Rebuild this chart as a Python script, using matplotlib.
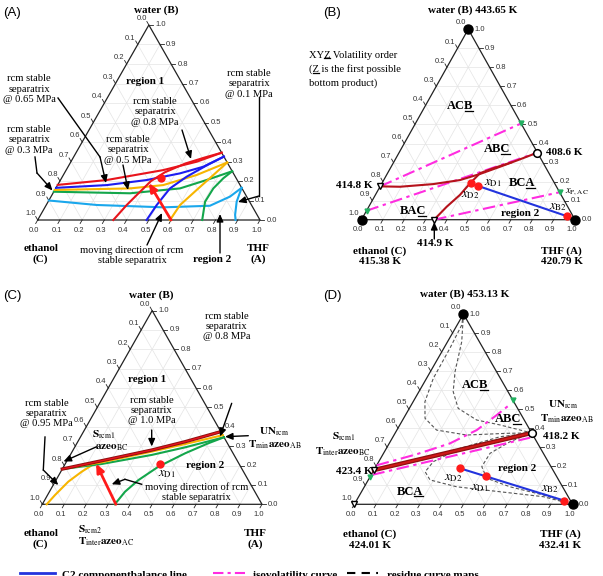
import numpy as np
import matplotlib
matplotlib.use('Agg')
import matplotlib.pyplot as plt

W, H = 603, 576
S3 = np.sqrt(3) / 2

plt.rcParams['font.family'] = 'Liberation Serif'
plt.rcParams['mathtext.fontset'] = 'stix'

# compositions are (x_THF, x_water); ethanol = 1 - both
ticks = np.round(np.arange(0, 1.01, 0.1), 1)

# ---- panel A: rcm stable separatrices at several pressures ----
a_red_up = [(0.0, 0.18), (0.208, 0.205), (0.437, 0.256), (0.566, 0.299), (0.655, 0.345)]
a_red_lo = [(0.34, 0.0), (0.362, 0.077), (0.388, 0.145), (0.41, 0.20), (0.45, 0.245),
            (0.52, 0.29), (0.59, 0.32), (0.655, 0.345)]
a_blue_up = [(0.0, 0.165), (0.221, 0.179), (0.388, 0.205), (0.52, 0.239), (0.608, 0.273), (0.675, 0.325)]
a_blue_lo = [(0.49, 0.0), (0.497, 0.077), (0.514, 0.162), (0.559, 0.222), (0.62, 0.28), (0.675, 0.325)]
a_yel_up = [(0.0, 0.154), (0.334, 0.162), (0.475, 0.179), (0.60, 0.231), (0.705, 0.295)]
a_yel_lo = [(0.595, 0.0), (0.602, 0.077), (0.638, 0.154), (0.675, 0.231), (0.705, 0.295)]
a_grn_up = [(0.0, 0.145), (0.347, 0.137), (0.559, 0.162), (0.657, 0.205), (0.75, 0.25)]
a_grn_lo = [(0.74, 0.0), (0.706, 0.094), (0.709, 0.162), (0.728, 0.214), (0.75, 0.25)]
a_cyan_up = [(0.0, 0.10), (0.227, 0.077), (0.533, 0.065), (0.738, 0.073), (0.805, 0.12), (0.835, 0.165)]
a_cyan_lo = [(0.835, 0.165), (0.848, 0.094), (0.875, 0.026), (0.89, 0.0)]
a_move = [(0.6, 0.0), (0.405, 0.19)]
a_feed = [(0.445, 0.215)]

# ---- panel B: 0.1 MPa ----
b_sep = [(0.0, 0.175), (0.094, 0.173), (0.243, 0.187), (0.357, 0.208), (0.435, 0.240),
         (0.510, 0.278), (0.584, 0.317), (0.648, 0.352)]
b_sep2 = [(0.34, 0.0), (0.365, 0.068), (0.396, 0.130), (0.413, 0.191), (0.433, 0.244),
          (0.482, 0.270), (0.55, 0.30)]
b_iso1 = [(0.0, 0.175), (0.495, 0.505)]
b_iso2 = [(0.0, 0.047), (0.648, 0.352)]
b_iso3 = [(0.34, 0.0), (0.856, 0.144)]
b_balance = [(0.458, 0.177), (0.951, 0.019)]
b_streams = [(0.417, 0.191), (0.458, 0.177), (0.951, 0.019)]
b_pure = [(0.0, 1.0), (0.0, 0.0), (1.0, 0.0)]
b_max_azeo = [(0.648, 0.352)]
b_saddle = [(0.0, 0.175), (0.34, 0.0)]
b_iso_ends = [(0.495, 0.505), (0.856, 0.144), (0.0, 0.047)]

# ---- panel C: higher pressures ----
c_red = [(0.0, 0.182), (0.158, 0.225), (0.358, 0.280), (0.488, 0.323), (0.625, 0.375)]
c_yel = [(0.0, 0.182), (0.162, 0.217), (0.362, 0.272), (0.494, 0.311), (0.643, 0.357)]
c_grn = [(0.0, 0.182), (0.166, 0.208), (0.371, 0.255), (0.503, 0.294), (0.654, 0.346)]
c_grn_lo = [(0.33, 0.0), (0.344, 0.065), (0.375, 0.125), (0.431, 0.194), (0.518, 0.263),
            (0.598, 0.315), (0.654, 0.346)]
c_yel_lo = [(0.02, 0.0), (0.034, 0.048), (0.060, 0.117), (0.095, 0.168), (0.134, 0.212)]
c_move = [(0.335, 0.0), (0.14, 0.21)]
c_feed = [(0.432, 0.208)]

# ---- panel D: 1.0 MPa ----
d_sep = [(0.0, 0.18), (0.625, 0.375)]
d_iso_up = [(0.0, 0.205), (0.154, 0.263), (0.278, 0.320), (0.366, 0.390), (0.418, 0.469), (0.451, 0.525)]
d_iso_lo = [(0.005, 0.155), (0.63, 0.35)]
d_res1 = [(0.0, 1.0), (0.021, 0.942), (0.028, 0.820), (0.031, 0.662), (0.054, 0.539), (0.098, 0.452),
          (0.182, 0.390), (0.333, 0.364), (0.512, 0.373), (0.625, 0.375)]
d_res2 = [(0.0, 1.0), (0.065, 0.854), (0.113, 0.697), (0.157, 0.592), (0.224, 0.504), (0.339, 0.443),
          (0.459, 0.417), (0.625, 0.375)]
d_res3 = [(0.625, 0.375), (0.490, 0.355), (0.337, 0.294), (0.250, 0.224), (0.239, 0.171), (0.283, 0.128),
          (0.423, 0.092), (0.634, 0.066), (0.846, 0.040), (1.0, 0.0)]
d_res4 = [(0.625, 0.375), (0.549, 0.329), (0.488, 0.268), (0.485, 0.198), (0.538, 0.137), (0.667, 0.092),
          (0.841, 0.049), (1.0, 0.0)]
d_balance = [(0.39, 0.189), (0.953, 0.019)]
d_streams = [(0.39, 0.189), (0.527, 0.150), (0.953, 0.019)]
d_pure = [(0.0, 1.0), (1.0, 0.0)]
d_min_azeo = [(0.625, 0.375)]
d_saddle = [(0.0, 0.18), (0.0, 0.0)]
d_iso_ends = [(0.452, 0.548), (0.0, 0.145)]

RED, BLUE, YEL, GRN, CYAN = '#e8141c', '#1d1df0', '#f7b500', '#13a64b', '#1aa7ec'
DRED, MAG, BAL = '#b5121b', '#ff2ce0', '#2233dd'
TICK_FS, ANN_FS, BOLD_FS = 5.5, 7.6, 8


def tern(pts):
    a = np.asarray(pts, dtype=float)
    return a[:, 0] + a[:, 1] / 2, a[:, 1] * S3


fig = plt.figure(figsize=(W / 100, H / 100), dpi=100)


def panel(rect, geom):
    left, top, right, bottom = rect
    L, By, sx, hy = geom
    ax = fig.add_axes([left / W, 1 - bottom / H, (right - left) / W, (bottom - top) / H])
    ax.set_xlim((left - L) / sx, (right - L) / sx)
    ax.set_ylim((By - bottom) / hy * S3, (By - top) / hy * S3)
    ax.axis('off')
    # faint grid
    for v in ticks[1:-1]:
        for seg in ([(v, 0), (v, 1 - v)], [(0, v), (1 - v, v)], [(1 - v, 0), (0, 1 - v)]):
            x, y = tern(seg)
            ax.plot(x, y, color='#e4e4e4', lw=0.5, zorder=0)
    ax.plot([0, 1, 0.5, 0], [0, 0, S3, 0], color='#222', lw=0.9, zorder=1)
    tl = 0.018
    tkw = dict(textcoords='offset points', fontsize=TICK_FS, family='Liberation Sans', color='#333')
    for v in ticks:
        lab = f'{v:.1f}'
        x, y = tern([(v, 0)])
        ax.plot([x[0], x[0] - 0.5 * tl], [y[0], y[0] - S3 * tl], color='#222', lw=0.6)
        ax.annotate(lab, (x[0], y[0]), xytext=(-2.4, -7.4), ha='center', va='center', **tkw)
        x, y = tern([(1 - v, v)])
        ax.plot([x[0], x[0] + tl], [y[0], y[0]], color='#222', lw=0.6)
        ax.annotate(lab, (x[0], y[0]), xytext=(4.5, 0), ha='left', va='center', **tkw)
        x, y = tern([(0, 1 - v)])
        ax.plot([x[0], x[0] - 0.5 * tl], [y[0], y[0] + S3 * tl], color='#222', lw=0.6)
        ax.annotate(lab, (x[0], y[0]), xytext=(-1.5, 4.5), ha='right', va='center', **tkw)
    return ax


def line(ax, pts, color, lw=1.5, **kw):
    x, y = tern(pts)
    ax.plot(x, y, color=color, lw=lw, **kw)


def marks(ax, pts, **kw):
    x, y = tern(pts)
    ax.plot(x, y, ls='none', zorder=5, **kw)


def iso(ax, pts):
    line(ax, pts, MAG, lw=1.5, dashes=(6, 2.2, 1.6, 2.2))


def move_arrow(ax, pts):
    x, y = tern(pts)
    ax.annotate('', xy=(x[1], y[1]), xytext=(x[0], y[0]),
                arrowprops=dict(arrowstyle='-|>,head_length=0.5,head_width=0.22', color='#ff1a1a',
                                lw=2, shrinkA=0, shrinkB=0))


axA = panel((0, 0, 300, 290), (37.7, 220, 222.3, 195))
axB = panel((300, 0, 603, 290), (361.5, 219.7, 213.5, 190.5))
axC = panel((0, 290, 300, 550), (42.3, 504.3, 219.7, 193.7))
axD = panel((300, 290, 603, 552), (354.3, 504.3, 218.3, 190.3))

# panel A curves
for pts, c in [(a_cyan_up, CYAN), (a_cyan_lo, CYAN), (a_grn_up, GRN), (a_grn_lo, GRN),
               (a_yel_up, YEL), (a_yel_lo, YEL), (a_blue_up, BLUE), (a_blue_lo, BLUE),
               (a_red_up, RED), (a_red_lo, RED)]:
    line(axA, pts, c)
move_arrow(axA, a_move)
marks(axA, a_feed, marker='o', ms=5, color='#ff1a1a')

# panel B
for pts in (b_iso1, b_iso2, b_iso3):
    iso(axB, pts)
line(axB, b_sep, DRED)
line(axB, b_sep2, DRED)
line(axB, b_balance, BAL)
marks(axB, b_streams, marker='o', ms=5, color='#ff1a1a')
marks(axB, b_pure, marker='o', ms=6.5, color='k')
marks(axB, b_max_azeo, marker='o', ms=5.5, mfc='white', mec='k', mew=1.1)
marks(axB, b_saddle, marker='v', ms=5, mfc='white', mec='k', mew=1.0)
marks(axB, b_iso_ends, marker='v', ms=3.5, color='#22b060')

# panel C
line(axC, c_yel_lo, YEL)
line(axC, c_grn_lo, GRN)
line(axC, c_grn, GRN)
line(axC, c_yel, YEL)
line(axC, c_red, '#8c1010', lw=2.4)
line(axC, c_red, RED, lw=1.0)
move_arrow(axC, c_move)
marks(axC, c_feed, marker='o', ms=5, color='#ff1a1a')

# panel D
for pts in (d_res1, d_res2, d_res3, d_res4):
    line(axD, pts, '#555555', lw=0.8, dashes=(3, 2))
iso(axD, d_iso_up)
iso(axD, d_iso_lo)
line(axD, d_sep, '#8c1010', lw=3.2)
line(axD, d_sep, '#d01818', lw=1.4)
line(axD, d_balance, BAL)
marks(axD, d_streams, marker='o', ms=5, color='#ff1a1a')
marks(axD, d_pure, marker='o', ms=6.5, color='k')
marks(axD, d_min_azeo, marker='o', ms=5.5, mfc='white', mec='k', mew=1.1)
marks(axD, d_saddle, marker='v', ms=5, mfc='white', mec='k', mew=1.0)
marks(axD, d_iso_ends, marker='v', ms=3.5, color='#22b060')

# ---- overlay in pixel coordinates for the annotations ----
ov = fig.add_axes([0, 0, 1, 1])
ov.set_xlim(0, W)
ov.set_ylim(H, 0)
ov.axis('off')


def txt(x, y, s, size=ANN_FS, bold=False, ha='center', **kw):
    ov.text(x, y, s, fontsize=size, fontweight='bold' if bold else 'normal',
            ha=ha, va='center', linespacing=1.15, **kw)


def ul_txt(x, y, s, k, size=BOLD_FS, bold=True, ha='center'):
    kw = dict(fontsize=size, fontweight='bold' if bold else 'normal')
    t = ov.text(x, y, s, ha=ha, va='center', **kw)
    r = fig.canvas.get_renderer()
    bb = t.get_window_extent(r)

    def wid(sub):
        tmp = ov.text(0, 0, sub, **kw)
        w = tmp.get_window_extent(r).width
        tmp.remove()
        return w

    x0 = bb.x0 + (wid(s[:k]) if k else 0)
    x1 = bb.x0 + wid(s[:k + 1])
    inv = ov.transData.inverted()
    p0 = inv.transform((x0 + 0.3, bb.y0 + 1.3))
    p1 = inv.transform((x1 - 0.3, bb.y0 + 1.3))
    ov.plot([p0[0], p1[0]], [p0[1], p1[1]], color='k', lw=0.9)


def arrow(pts, lw=1.0):
    xs = [p[0] for p in pts]
    ys = [p[1] for p in pts]
    if len(pts) > 2:
        ov.plot(xs[:-1], ys[:-1], color='k', lw=lw)
    ov.annotate('', xy=pts[-1], xytext=pts[-2],
                arrowprops=dict(arrowstyle='-|>,head_length=0.45,head_width=0.2', color='k',
                                lw=lw, shrinkA=0, shrinkB=0))


SANS = dict(family='Liberation Sans')
# panel A text
txt(3, 13, '(A)', size=9.5, ha='left', **SANS)
txt(156.7, 10, 'water (B)', size=BOLD_FS, bold=True)
txt(145, 82, 'region 1', size=BOLD_FS, bold=True)
txt(29, 89, 'rcm stable\nseparatrix\n@ 0.65 MPa')
txt(29, 140, 'rcm stable\nseparatrix\n@ 0.3 MPa')
txt(155, 112, 'rcm stable\nseparatrix\n@ 0.8 MPa')
txt(128, 150, 'rcm stable\nseparatrix\n@ 0.5 MPa')
txt(249, 84, 'rcm stable\nseparatrix\n@ 0.1 MPa')
txt(40.7, 254, 'ethanol\n(C)', size=BOLD_FS, bold=True)
txt(258, 254, 'THF\n(A)', size=BOLD_FS, bold=True)
txt(132, 255.5, 'moving direction of rcm\nstable separatrix')
txt(212, 260, 'region 2', size=BOLD_FS, bold=True)
arrow([(58, 98), (100, 157), (106, 183)])
arrow([(35, 157), (37, 173), (52.5, 190.5)])
arrow([(182, 130), (191, 159)])
arrow([(123, 165), (128, 190)])
arrow([(259, 97), (259, 196), (238, 202)])
arrow([(147, 245), (162, 213)])
arrow([(220, 253), (220, 214)])

# panel B text
txt(323, 13, '(B)', size=9.5, ha='left', **SANS)
txt(472.7, 10, 'water (B) 443.65 K', size=BOLD_FS, bold=True)
ul_txt(309, 55, 'XYZ Volatility order', 2, size=ANN_FS, bold=False, ha='left')
ul_txt(309, 69.5, '(Z is the first possible', 1, size=ANN_FS, bold=False, ha='left')
txt(309, 83, 'bottom product)', ha='left')
ul_txt(460, 106, 'ACB', 2, size=9)
ul_txt(496.7, 149.3, 'ABC', 2, size=9)
ul_txt(521.7, 183.3, 'BCA', 2, size=9)
ul_txt(413.3, 211, 'BAC', 2, size=9)
txt(520, 213.3, 'region 2', size=BOLD_FS, bold=True)
txt(546.5, 152.7, '408.6 K', size=BOLD_FS, bold=True, ha='left')
txt(373, 186, '414.8 K', size=BOLD_FS, bold=True, ha='right')
txt(435, 243.3, '414.9 K', size=BOLD_FS, bold=True)
arrow([(434.3, 239), (434.3, 222)])
txt(380, 256.5, 'ethanol (C)\n415.38 K', size=BOLD_FS, bold=True)
txt(561.7, 256.5, 'THF (A)\n420.79 K', size=BOLD_FS, bold=True)
txt(493, 182.7, r'$x_{\mathrm{D1}}$', size=9)
txt(470, 195, r'$x_{\mathrm{D2}}$', size=9)
txt(558.3, 207.3, r'$x_{\mathrm{B2}}$', size=9)
txt(565, 191.7, r'$x_{\mathrm{P,AC}}$', size=7.5, ha='left')

# panel C text
txt(3, 296, '(C)', size=9.5, ha='left', **SANS)
txt(151.7, 295, 'water (B)', size=BOLD_FS, bold=True)
txt(146.7, 379.3, 'region 1', size=BOLD_FS, bold=True)
txt(226.7, 326.7, 'rcm stable\nseparatrix\n@ 0.8 MPa')
txt(151.7, 410.7, 'rcm stable\nseparatrix\n@ 1.0 MPa')
txt(46.7, 413.3, 'rcm stable\nseparatrix\n@ 0.95 MPa')
txt(103.3, 435, r'$\mathbf{S}_{\mathrm{rcm1}}$', size=BOLD_FS)
txt(111.7, 447.3, r'$\mathbf{azeo}_{\mathrm{BC}}$', size=BOLD_FS)
txt(259, 431.7, r'$\mathbf{UN}_{\mathrm{rcm}}$', size=BOLD_FS, ha='left')
txt(247.5, 445, r'$\mathbf{T}_{\mathrm{min}}\mathbf{azeo}_{\mathrm{AB}}$', size=BOLD_FS, ha='left')
txt(205, 465.7, 'region 2', size=BOLD_FS, bold=True)
txt(166.7, 474.5, r'$x_{\mathrm{D1}}$', size=9)
txt(196.7, 492, 'moving direction of rcm\nstable separatrix')
txt(40.7, 539, 'ethanol\n(C)', size=BOLD_FS, bold=True)
txt(78, 529.3, r'$\mathbf{S}_{\mathrm{rcm2}}$', size=BOLD_FS, ha='left')
txt(78, 541.7, r'$\mathbf{T}_{\mathrm{inter}}\mathbf{azeo}_{\mathrm{AC}}$', size=BOLD_FS, ha='left')
txt(255, 539, 'THF\n(A)', size=BOLD_FS, bold=True)
arrow([(45, 437), (43.3, 470), (58.3, 485)])
arrow([(151.7, 430), (151.7, 446.5)])
arrow([(231.7, 403.3), (220, 436.5)])
arrow([(96.7, 446.7), (63.5, 461.5)])
arrow([(248.3, 435.7), (225, 436.7)])
arrow([(141.7, 484.3), (125, 479.3), (111.7, 484.3)])

# panel D text
txt(323, 296, '(D)', size=9.5, ha='left', **SANS)
txt(465, 294, 'water (B) 453.13 K', size=BOLD_FS, bold=True)
ul_txt(475, 385, 'ACB', 2, size=9)
ul_txt(508.3, 419, 'ABC', 2, size=9)
ul_txt(410, 491.7, 'BCA', 2, size=9)
txt(563.3, 405, r'$\mathbf{UN}_{\mathrm{rcm}}$', size=BOLD_FS)
txt(566.7, 418.3, r'$\mathbf{T}_{\mathrm{min}}\mathbf{azeo}_{\mathrm{AB}}$', size=BOLD_FS)
txt(543.3, 436.7, '418.2 K', size=BOLD_FS, bold=True, ha='left')
txt(343.3, 436.7, r'$\mathbf{S}_{\mathrm{rcm1}}$', size=BOLD_FS)
txt(343.3, 451.7, r'$\mathbf{T}_{\mathrm{inter}}\mathbf{azeo}_{\mathrm{BC}}$', size=BOLD_FS)
txt(372.7, 471.7, '423.4 K', size=BOLD_FS, bold=True, ha='right')
txt(516.7, 468.3, 'region 2', size=BOLD_FS, bold=True)
txt(453.3, 477.7, r'$x_{\mathrm{D2}}$', size=9)
txt(480, 488.3, r'$x_{\mathrm{D1}}$', size=9)
txt(550, 489.3, r'$x_{\mathrm{B2}}$', size=9)
txt(370, 539.7, 'ethanol (C)\n424.01 K', size=BOLD_FS, bold=True)
txt(560, 539.7, 'THF (A)\n432.41 K', size=BOLD_FS, bold=True)

# legend strip along the bottom edge
ov.plot([20, 55], [572.5, 572.5], color=BAL, lw=2)
ov.plot([213, 245], [572.5, 572.5], color=MAG, lw=1.5, dashes=(5, 2, 1.5, 2))
ov.plot([347, 378], [572.5, 572.5], color='k', lw=1.5, dashes=(4, 3))
for x, s in [(62, 'C2 componentbalance line'), (253, 'isovolatility curve'), (387, 'residue curve maps')]:
    ov.text(x, 578, s, fontsize=BOLD_FS, fontweight='bold', ha='left', va='baseline')

fig.savefig('out.png', dpi=100)
